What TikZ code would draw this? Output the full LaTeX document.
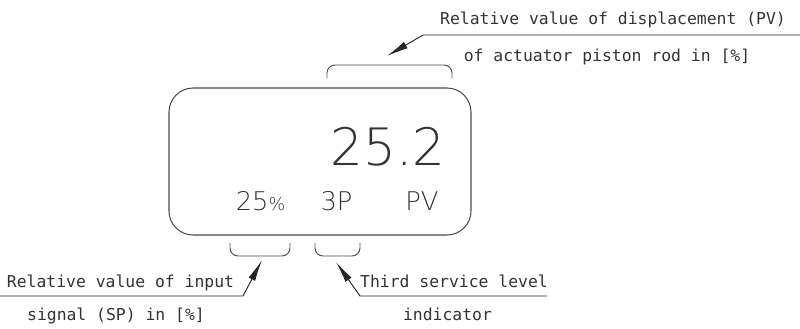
\documentclass[tikz,border=0pt]{standalone}
\usepackage{fontspec}
\setmonofont{DejaVu Sans Mono}
\newfontfamily\lcdfont{DejaVu Sans ExtraLight}
\usetikzlibrary{arrows.meta, positioning}

\begin{document}
\begin{tikzpicture}[
    x=0.3mm, y=-0.3mm,
    display/.style={draw=black!70, line width=0.9pt, rounded corners=7.2mm, minimum width=90.6mm, minimum height=44.1mm},
    lbl/.style={font=\ttfamily\fontsize{14}{16}\selectfont, text=black!80, inner sep=0pt, anchor=base},
    big/.style={font=\lcdfont\fontsize{44}{48}\selectfont, text=black!80, inner sep=0pt, anchor=base},
    small/.style={font=\lcdfont\fontsize{22}{24}\selectfont, text=black!80, inner sep=0pt, anchor=base},
    brace/.style={draw=black!70, line width=0.8pt, rounded corners=2.4mm},
    pointer/.style={draw=black!85, line width=0.8pt, -{Latex[length=6.5mm, width=2.2mm]}}
]
\useasboundingbox (0,0) rectangle (800,328);

% Display
\node[display] (lcd) at (320,161.5) {};
\node[big] (pv) at (388,165) {25.2};
\node[small] (sp) at (260.5,210) {25{\fontsize{15}{16}\selectfont\%}};
\node[small] (lvl) at (336.5,210) {3P};
\node[small] (mode) at (422,210) {PV};

% Brackets
\draw[brace] (327,78) -- (327,65) -- (452,65) -- (452,78);
\draw[brace] (230,243) -- (230,256) -- (290,256) -- (290,243);
\draw[brace] (315,243) -- (315,256) -- (360,256) -- (360,243);

% Labels
\node[lbl] (pvtop) at (613,24) {Relative value of displacement (PV)};
\node[lbl] (pvbot) at (607,61) {of actuator piston rod in [\%]};
\node[lbl] (sptop) at (120.5,287) {Relative value of input};
\node[lbl] (spbot) at (116,320) {signal (SP) in [\%]};
\node[lbl] (lvltop) at (454,287) {Third service level};
\node[lbl] (lvlbot) at (447.5,320) {indicator};

% Leaders
\coordinate (pvend) at (800,35);
\coordinate (pvbend) at (423,35);
\coordinate (pvtip) at (387,56);
\coordinate (spend) at (0,296);
\coordinate (spbend) at (243,296);
\coordinate (sptip) at (262,260);
\coordinate (lvlend) at (547,296);
\coordinate (lvlbend) at (360,296);
\coordinate (lvltip) at (336,262);

\draw[pointer] (pvend) -- (pvbend) -- (pvtip);
\draw[pointer] (spend) -- (spbend) -- (sptip);
\draw[pointer] (lvlend) -- (lvlbend) -- (lvltip);
\end{tikzpicture}
\end{document}
